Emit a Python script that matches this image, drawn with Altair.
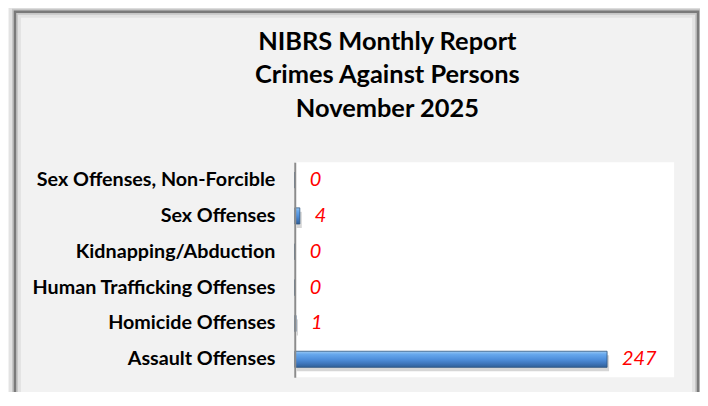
import altair as alt
import pandas as pd

categories = [
    "Sex Offenses, Non-Forcible",
    "Sex Offenses",
    "Kidnapping/Abduction",
    "Human Trafficking Offenses",
    "Homicide Offenses",
    "Assault Offenses",
]
values = [0, 4, 0, 0, 1, 247]
title_lines = ["NIBRS Monthly Report", "Crimes Against Persons", "November 2025"]

df = pd.DataFrame({"category": categories, "value": values})

FONT = "Lato"

y_enc = alt.Y(
    "category:N",
    sort=categories,
    scale=alt.Scale(paddingInner=0.55, paddingOuter=0.275),
    axis=alt.Axis(
        title=None,
        ticks=False,
        labelFont=FONT,
        labelFontSize=19.8,
        labelFontWeight="bold",
        labelColor="black",
        labelPadding=20,
        labelLimit=400,
        domainColor="#8c8c8c",
        domainWidth=2,
        zindex=1,
    ),
)
x_enc = alt.X("value:Q", scale=alt.Scale(domain=[0, 300]), axis=None)

grad = alt.Gradient(
    gradient="linear",
    x1=0, x2=0, y1=0, y2=1,
    stops=[
        alt.GradientStop(color="#9cc9f3", offset=0.0),
        alt.GradientStop(color="#68a9ee", offset=0.18),
        alt.GradientStop(color="#4f8fdc", offset=0.5),
        alt.GradientStop(color="#3f77bd", offset=0.75),
        alt.GradientStop(color="#2f5e96", offset=1.0),
    ],
)

base = alt.Chart(df)

shadow = base.mark_bar(color="#8a8a8a", opacity=0.35, xOffset=2, yOffset=4).encode(
    y=y_enc, x=x_enc
)
bars = base.mark_bar(color=grad, stroke="#2c5580", strokeWidth=0.8).encode(
    y=y_enc, x=x_enc
)
labels = base.mark_text(
    align="left",
    baseline="middle",
    dx=15,
    font=FONT,
    fontSize=20,
    fontStyle="italic",
    color="#ff0000",
).encode(y=y_enc, x=x_enc, text="value:Q")

one = alt.Chart(pd.DataFrame({"a": [0]}))

title = one.mark_text(
    text=title_lines,
    font=FONT,
    fontSize=25.5,
    fontWeight="bold",
    color="black",
    align="center",
    baseline="alphabetic",
    lineHeight=34,
).encode(x=alt.value(93), y=alt.value(-113))

frame_shadow2 = one.mark_rect(fillOpacity=0, stroke="#000000", strokeOpacity=0.06, strokeWidth=12).encode(
    x=alt.value(-281), x2=alt.value(405), y=alt.value(-151), y2=alt.value(300)
)
frame_shadow1 = one.mark_rect(fillOpacity=0, stroke="#000000", strokeOpacity=0.12, strokeWidth=6).encode(
    x=alt.value(-281), x2=alt.value(405), y=alt.value(-151), y2=alt.value(300)
)
frame = one.mark_rect(fillOpacity=0, stroke="#7a7a7a", strokeWidth=2.5).encode(
    x=alt.value(-281), x2=alt.value(405), y=alt.value(-151), y2=alt.value(300)
)

chart = (
    alt.layer(shadow, bars, labels, title, frame_shadow2, frame_shadow1, frame)
    .properties(
        width=381,
        height=216,
        background="#f2f2f2",
        padding={"left": 288, "top": 154, "right": 26, "bottom": 14},
        autosize=alt.AutoSizeParams(type="none"),
    )
    .configure_view(fill="white", stroke=None)
)

chart.save("out.html", embed_options={"renderer": "svg", "actions": False})
